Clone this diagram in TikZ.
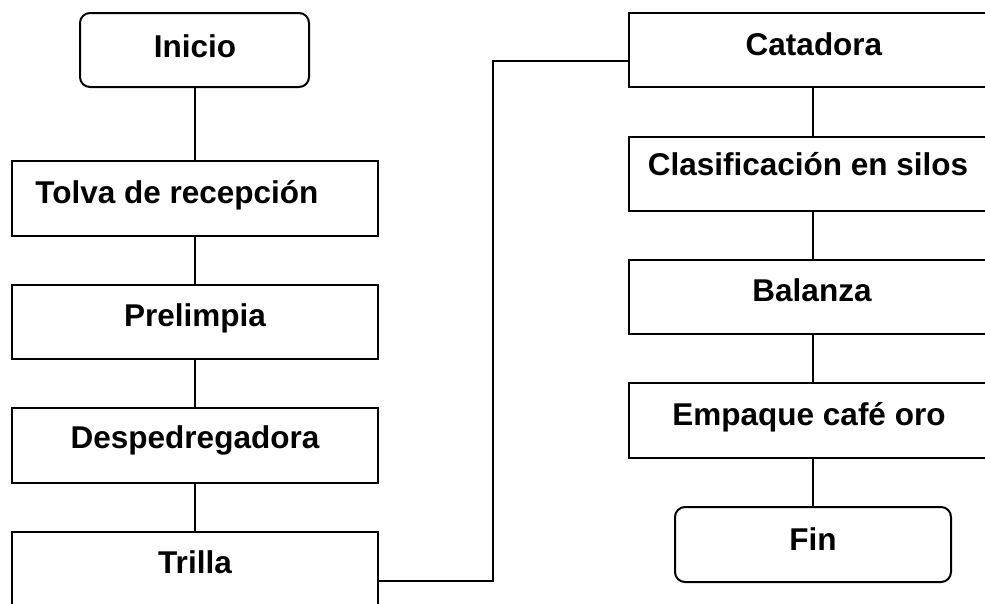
\documentclass[tikz,border=0pt]{standalone}
\usepackage{fontspec}
\setmainfont{Liberation Sans}
\begin{document}
\begin{tikzpicture}[x=1pt,y=-1pt,
  boxst/.style={draw=black,line width=2pt,rectangle,inner sep=0pt},
  rbox/.style={boxst,rounded corners=10pt},
  lbl/.style={anchor=base,inner sep=0pt,font=\fontsize{31.5}{36}\selectfont\bfseries},
  conn/.style={draw=black,line width=2pt}]
\useasboundingbox (0,0) rectangle (985,603);
\clip (0,0) rectangle (985,603);
% left column boxes
\draw[rbox] (80,13) rectangle (309,87);
\coordinate (inicioB) at (195,87);
\draw[boxst] (12,161) rectangle (378,236);
\coordinate (tolvaT) at (195,161); \coordinate (tolvaB) at (195,236);
\draw[boxst] (12,285) rectangle (378,359);
\coordinate (preT) at (195,285); \coordinate (preB) at (195,359);
\draw[boxst] (12,408) rectangle (378,483);
\coordinate (desT) at (195,408); \coordinate (desB) at (195,483);
\draw[boxst] (12,532) rectangle (378,608);
\coordinate (triT) at (195,532); \coordinate (triR) at (378,581);
% right column boxes
\draw[boxst] (629,13) rectangle (997,87);
\coordinate (catL) at (629,61); \coordinate (catB) at (813,87);
\draw[boxst] (629,137) rectangle (997,211);
\coordinate (claT) at (813,137); \coordinate (claB) at (813,211);
\draw[boxst] (629,260) rectangle (997,334);
\coordinate (balT) at (813,260); \coordinate (balB) at (813,334);
\draw[boxst] (629,383) rectangle (997,458);
\coordinate (empT) at (813,383); \coordinate (empB) at (813,458);
\draw[rbox] (675,507) rectangle (951,582);
\coordinate (finT) at (813,507);
% labels
\node[lbl] (tInicio) at (195,57) {Inicio};
\node[lbl] (tTolva) at (177,203) {Tolva de recepción};
\node[lbl] (tPre) at (195,326) {Prelimpia};
\node[lbl] (tDes) at (195,448) {Despedregadora};
\node[lbl] (tTri) at (195,573) {Trilla};
\node[lbl] (tCat) at (814,55) {Catadora};
\node[lbl] (tCla) at (808,175) {Clasificación en silos};
\node[lbl] (tBal) at (812,301) {Balanza};
\node[lbl] (tEmp) at (809,425) {Empaque café oro};
\node[lbl] (tFin) at (813,550) {Fin};
% connectors
\draw[conn] (inicioB) -- (tolvaT);
\draw[conn] (tolvaB) -- (preT);
\draw[conn] (preB) -- (desT);
\draw[conn] (desB) -- (triT);
\draw[conn] (triR) -- (493,581) -- (493,61) -- (catL);
\draw[conn] (catB) -- (claT);
\draw[conn] (claB) -- (balT);
\draw[conn] (balB) -- (empT);
\draw[conn] (empB) -- (finT);
\end{tikzpicture}
\end{document}
